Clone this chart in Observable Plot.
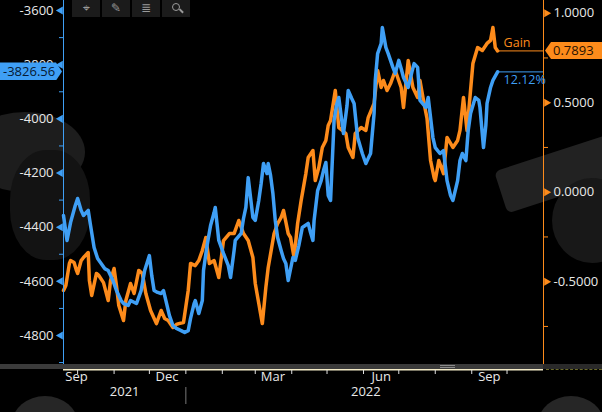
<!DOCTYPE html>
<html><head><meta charset="utf-8">
<script src="https://cdn.jsdelivr.net/npm/d3@7"></script>
<script src="https://cdn.jsdelivr.net/npm/@observablehq/plot@0.6"></script>
<style>
html,body{margin:0;padding:0;background:#000;}
#wrap{position:relative;width:602px;height:412px;overflow:hidden;background:#000;font-family:"Open Sans",Roboto,sans-serif;}
#wrap svg{position:absolute;left:0;top:0;}
.blob{position:absolute;}
.tb{position:absolute;top:0;width:28px;height:17px;background:#1b1b1b;color:#9a9a9a;font-size:12px;line-height:17px;text-align:center;font-family:"DejaVu Sans",sans-serif;}
.tag{position:absolute;font-size:13px;white-space:nowrap;}
</style></head><body><div id="wrap"></div>
<script>
// ---- data ----
const blueDates = ["2021-09-19","2021-09-22","2021-09-25","2021-09-29","2021-10-01","2021-10-04","2021-10-06","2021-10-10","2021-10-12","2021-10-15","2021-10-18","2021-10-21","2021-10-24","2021-10-27","2021-10-31","2021-11-03","2021-11-07","2021-11-09","2021-11-13","2021-11-15","2021-11-20","2021-11-24","2021-11-27","2021-12-01","2021-12-03","2021-12-05","2021-12-08","2021-12-11","2021-12-13","2021-12-16","2021-12-18","2021-12-21","2021-12-24","2021-12-28","2021-12-31","2022-01-03","2022-01-05","2022-01-08","2022-01-09","2022-01-12","2022-01-15","2022-01-16","2022-01-19","2022-01-22","2022-01-25","2022-01-26","2022-01-29","2022-02-02","2022-02-06","2022-02-08","2022-02-11","2022-02-12","2022-02-17","2022-02-19","2022-02-21","2022-02-23","2022-02-27","2022-03-01","2022-03-04","2022-03-06","2022-03-08","2022-03-11","2022-03-12","2022-03-14","2022-03-16","2022-03-18","2022-03-20","2022-03-23","2022-03-25","2022-03-27","2022-03-29","2022-04-02","2022-04-04","2022-04-07","2022-04-10","2022-04-15","2022-04-17","2022-04-19","2022-04-20","2022-04-23","2022-04-26","2022-04-28","2022-04-30","2022-05-02","2022-05-04","2022-05-07","2022-05-09","2022-05-11","2022-05-13","2022-05-15","2022-05-18","2022-05-19","2022-05-22","2022-05-24","2022-05-27","2022-05-31","2022-06-03","2022-06-05","2022-06-07","2022-06-10","2022-06-11","2022-06-13","2022-06-16","2022-06-17","2022-06-20","2022-06-22","2022-06-26","2022-06-28","2022-07-01","2022-07-03","2022-07-05","2022-07-09","2022-07-12","2022-07-14","2022-07-17","2022-07-19","2022-07-24","2022-07-26","2022-07-30","2022-08-01","2022-08-05","2022-08-08","2022-08-11","2022-08-14","2022-08-16","2022-08-20","2022-08-22","2022-08-24","2022-08-27","2022-08-29","2022-08-31","2022-09-04","2022-09-07","2022-09-08","2022-09-11","2022-09-13","2022-09-14","2022-09-17","2022-09-19","2022-09-23"];
const blueValues = [-4357,-4449,-4383,-4320,-4294,-4338,-4357,-4338,-4394,-4475,-4516,-4534,-4553,-4560,-4597,-4634,-4671,-4682,-4689,-4671,-4682,-4634,-4560,-4505,-4578,-4634,-4641,-4645,-4634,-4689,-4726,-4763,-4774,-4782,-4789,-4782,-4737,-4682,-4671,-4719,-4671,-4560,-4468,-4394,-4346,-4327,-4449,-4497,-4541,-4586,-4486,-4449,-4423,-4368,-4327,-4217,-4364,-4375,-4301,-4239,-4165,-4202,-4165,-4209,-4276,-4375,-4438,-4486,-4516,-4534,-4597,-4512,-4523,-4468,-4401,-4386,-4420,-4449,-4375,-4265,-4228,-4191,-4161,-4283,-4301,-4006,-3951,-3921,-3988,-4054,-3951,-3895,-3925,-3943,-4069,-4128,-4165,-4146,-4128,-3980,-3858,-3759,-3722,-3663,-3736,-3759,-3810,-3832,-3784,-3814,-3847,-3884,-3829,-3796,-3810,-3932,-3958,-3921,-4069,-4106,-4128,-4117,-4228,-4283,-4301,-4228,-4154,-4128,-4154,-4043,-3980,-3921,-3932,-3958,-4106,-4024,-3943,-3884,-3858,-3826.56];

const orangeDates = ["2021-09-19","2021-09-21","2021-09-24","2021-09-25","2021-09-28","2021-09-30","2021-10-01","2021-10-04","2021-10-06","2021-10-10","2021-10-11","2021-10-13","2021-10-17","2021-10-19","2021-10-23","2021-10-27","2021-10-29","2021-11-01","2021-11-03","2021-11-05","2021-11-09","2021-11-11","2021-11-15","2021-11-18","2021-11-22","2021-11-25","2021-11-28","2021-12-02","2021-12-07","2021-12-11","2021-12-14","2021-12-17","2021-12-21","2021-12-24","2021-12-26","2021-12-30","2022-01-03","2022-01-05","2022-01-09","2022-01-12","2022-01-15","2022-01-18","2022-01-21","2022-01-25","2022-01-29","2022-02-02","2022-02-07","2022-02-11","2022-02-15","2022-02-19","2022-02-23","2022-02-27","2022-03-01","2022-03-04","2022-03-07","2022-03-10","2022-03-12","2022-03-17","2022-03-20","2022-03-23","2022-03-25","2022-03-29","2022-03-31","2022-04-03","2022-04-06","2022-04-09","2022-04-13","2022-04-15","2022-04-19","2022-04-21","2022-04-24","2022-04-27","2022-04-30","2022-05-02","2022-05-04","2022-05-08","2022-05-11","2022-05-14","2022-05-17","2022-05-19","2022-05-23","2022-05-25","2022-05-30","2022-06-03","2022-06-05","2022-06-10","2022-06-13","2022-06-16","2022-06-18","2022-06-21","2022-06-24","2022-06-28","2022-07-03","2022-07-05","2022-07-09","2022-07-13","2022-07-17","2022-07-19","2022-07-22","2022-07-25","2022-07-28","2022-07-31","2022-08-01","2022-08-04","2022-08-08","2022-08-11","2022-08-16","2022-08-20","2022-08-22","2022-08-25","2022-08-28","2022-09-02","2022-09-06","2022-09-10","2022-09-14","2022-09-17","2022-09-19","2022-09-21","2022-09-23"];
const orangeValues = [-0.549,-0.521,-0.398,-0.382,-0.393,-0.437,-0.454,-0.382,-0.365,-0.337,-0.493,-0.577,-0.454,-0.465,-0.505,-0.605,-0.493,-0.426,-0.521,-0.633,-0.717,-0.605,-0.510,-0.566,-0.437,-0.454,-0.566,-0.661,-0.734,-0.661,-0.706,-0.717,-0.756,-0.739,-0.734,-0.728,-0.549,-0.398,-0.410,-0.382,-0.326,-0.253,-0.398,-0.382,-0.477,-0.270,-0.231,-0.231,-0.158,-0.231,-0.270,-0.365,-0.510,-0.622,-0.734,-0.532,-0.421,-0.231,-0.175,-0.141,-0.102,-0.231,-0.253,-0.365,-0.175,-0.046,0.104,0.194,0.233,0.065,0.138,0.250,0.289,0.373,0.401,0.568,0.361,0.345,0.328,0.250,0.194,0.328,0.361,0.345,0.417,0.496,0.680,0.585,0.624,0.568,0.607,0.680,0.585,0.473,0.736,0.585,0.529,0.624,0.512,0.412,0.177,0.082,0.065,0.177,0.104,0.306,0.250,0.289,0.345,0.529,0.345,0.719,0.808,0.792,0.831,0.848,0.920,0.808,0.7893];

const leftMajorTicks = [-4800,-4600,-4400,-4200,-4000,-3800,-3600];
const leftMinorTicks = [-4900,-4700,-4500,-4300,-4100,-3900,-3700];
const rightMajorTicks = [-0.5,0,0.5,1];
const rightMinorTicks = [-0.75,-0.25,0.25,0.75];
const monthTickDates = ["2021-10-01","2021-11-01","2021-12-01","2022-01-01","2022-02-01","2022-03-01","2022-04-01","2022-05-01","2022-06-01","2022-07-01","2022-08-01","2022-09-01","2022-10-01"];
const monthLabels = ["Sep","Dec","Mar","Jun","Sep"];
const monthLabelDates = ["2021-09-30","2021-12-16","2022-03-16","2022-06-16","2022-09-16"];
const yearLabels = ["2021","2022"];
const yearLabelDates = ["2021-11-10","2022-06-03"];
const yearBreakDates = ["2022-01-01"];
const blueName = "12.12%";
const orangeName = "Gain";

// ---- build ----
const BLUE = "#3f9ff5", ORANGE = "#fd8b1b", TXT = "#e8e8e8";
const xStart = new Date("2021-09-19"), xEnd = new Date("2022-11-01");
const blue = blueDates.map((d,i)=>({date:new Date(d), value:blueValues[i]}));
const orange = orangeDates.map((d,i)=>({date:new Date(d), value:orangeValues[i]}));
const bLast = blue[blue.length-1], oLast = orange[orange.length-1];

const common = {
  width:602, height:412, marginLeft:63, marginRight:59, marginTop:0, marginBottom:43,
  x:{type:"utc", domain:[xStart,xEnd], axis:null},
  style:{background:"transparent", color:TXT, fontFamily:"'Open Sans', Roboto, sans-serif", fontSize:"13px", overflow:"visible"}
};

const wrap = document.getElementById("wrap");

// watermark blobs (subtle background decoration)
[
 "left:-35px;top:112px;width:120px;height:80px;border-radius:50%;background:#1d1d1d;",
 "left:10px;top:150px;width:80px;height:110px;border-radius:45%;background:#131313;",
 "left:498px;top:152px;width:120px;height:44px;background:#222;transform:rotate(-18deg);border-radius:6px;",
 "left:552px;top:178px;width:80px;height:85px;border-radius:50%;background:#181818;",
 "left:12px;top:396px;width:66px;height:56px;border-radius:50%;background:#262626;",
 "left:538px;top:396px;width:66px;height:56px;border-radius:50%;background:#262626;"
].forEach(s=>{const d=document.createElement("div");d.className="blob";d.style.cssText=s;wrap.appendChild(d);});

const orangePlot = Plot.plot({
  ...common,
  y:{domain:[-0.9905,1.0709], axis:null},
  marks:[
    Plot.ruleX([xEnd], {stroke:ORANGE, strokeWidth:1}),
    Plot.axisY(rightMinorTicks, {anchor:"right", label:null, tickSize:4, tickFormat:()=>"", stroke:ORANGE}),
    Plot.dot(rightMajorTicks, {y:d=>d, frameAnchor:"right", symbol:"triangle", rotate:90, r:3, fill:ORANGE, dx:3}),
    Plot.text(rightMajorTicks, {y:d=>d, frameAnchor:"right", dx:10, textAnchor:"start", text:d=>d.toFixed(4), fill:TXT, fontSize:13}),
    Plot.line(orange, {x:"date", y:"value", stroke:ORANGE, strokeWidth:3.5, strokeLinejoin:"round"}),
    Plot.ruleY([oLast], {y:"value", x1:()=>oLast.date, x2:()=>xEnd, stroke:ORANGE, strokeWidth:1}),
    Plot.text([oLast], {x:"date", y:"value", text:()=>orangeName, dx:6, dy:-8, textAnchor:"start", fill:ORANGE, fontSize:12.5})
  ]
});
wrap.appendChild(orangePlot);

const bluePlot = Plot.plot({
  ...common,
  y:{domain:[-4925.6,-3562.9], axis:null},
  marks:[
    Plot.ruleX([xStart], {stroke:BLUE, strokeWidth:1}),
    Plot.axisY(leftMinorTicks, {anchor:"left", label:null, tickSize:4, tickFormat:()=>"", stroke:BLUE}),
    Plot.dot(leftMajorTicks, {y:d=>d, frameAnchor:"left", symbol:"triangle", rotate:-90, r:3, fill:BLUE, dx:-3}),
    Plot.text(leftMajorTicks, {y:d=>d, frameAnchor:"left", dx:-10, textAnchor:"end", text:d=>String(d), fill:TXT, fontSize:13}),
    Plot.line(blue, {x:"date", y:"value", stroke:BLUE, strokeWidth:3.5, strokeLinejoin:"round"}),
    Plot.ruleY([bLast], {y:"value", x1:()=>bLast.date, x2:()=>xEnd, stroke:BLUE, strokeWidth:1}),
    Plot.text([bLast], {x:"date", y:"value", text:()=>blueName, dx:6, dy:8, textAnchor:"start", fill:BLUE, fontSize:12.5}),
    // x axis
    Plot.ruleY([-4925.6], {stroke:"#f4ecc8", strokeWidth:2}),
    Plot.axisX(monthTickDates.map(d=>new Date(d)), {anchor:"bottom", label:null, tickSize:4, tickFormat:()=>"", stroke:"#e0e0e0", dy:1}),
    Plot.text(monthLabels, {x:(d,i)=>new Date(monthLabelDates[i]), text:d=>d, frameAnchor:"bottom", dy:11, fill:TXT, fontSize:13}),
    Plot.text(yearLabels, {x:(d,i)=>new Date(yearLabelDates[i]), text:d=>d, frameAnchor:"bottom", dy:26, fill:TXT, fontSize:13}),
    Plot.axisX(yearBreakDates.map(d=>new Date(d)), {anchor:"bottom", label:null, tickSize:17, tickFormat:()=>"", stroke:"#777", dy:18})
  ]
});
wrap.appendChild(bluePlot);

// gray separator band over bottom of axes
const band = document.createElement("div");
band.style.cssText = "position:absolute;left:0;top:364px;width:543px;height:5px;background:#3b3b3b;";
wrap.appendChild(band);
const band2 = document.createElement("div");
band2.style.cssText = "position:absolute;left:543px;top:364px;width:59px;height:5px;background:#2a2a2a;";
wrap.appendChild(band2);
const grip = document.createElement("div");
grip.style.cssText = "position:absolute;left:440px;top:365px;width:15px;height:1px;border-top:1px solid #8a8a8a;border-bottom:1px solid #8a8a8a;";
wrap.appendChild(grip);
const dash = document.createElement("div");
dash.style.cssText = "position:absolute;left:546px;top:369px;width:56px;height:0;border-top:1px dashed #6b6a2a;";
wrap.appendChild(dash);

// toolbar
const icons = ["⌖","✎","≣",""];
[72,102,132,162].forEach((x,i)=>{
  const d=document.createElement("div"); d.className="tb"; d.style.left=x+"px"; d.textContent=icons[i];
  if(i===3){
    d.innerHTML='<div style="position:absolute;left:10px;top:3px;width:6px;height:6px;border:1.3px solid #9a9a9a;border-radius:50%"></div><div style="position:absolute;left:17px;top:10px;width:5px;height:1.5px;background:#9a9a9a;transform:rotate(45deg)"></div>';
  }
  wrap.appendChild(d);
});

// value tags
const by = bluePlot.scale("y").apply(bLast.value);
const bt = document.createElement("div");
bt.className="tag";
bt.style.cssText += `left:0;top:${by-9}px;width:62px;height:18px;line-height:18px;background:${BLUE};color:#061a33;padding-left:3px;box-sizing:border-box;clip-path:polygon(0 0,56px 0,62px 9px,56px 18px,0 18px);`;
bt.textContent = String(bLast.value);
wrap.appendChild(bt);

const oy = orangePlot.scale("y").apply(oLast.value);
const ot = document.createElement("div");
ot.className="tag";
ot.style.cssText += `left:545px;top:${oy-8.5}px;width:57px;height:17px;line-height:17px;background:${ORANGE};color:#2a1200;padding-left:8px;box-sizing:border-box;clip-path:polygon(6px 0,57px 0,57px 17px,6px 17px,0 8.5px);`;
ot.textContent = oLast.value.toFixed(4);
wrap.appendChild(ot);
</script></body></html>
